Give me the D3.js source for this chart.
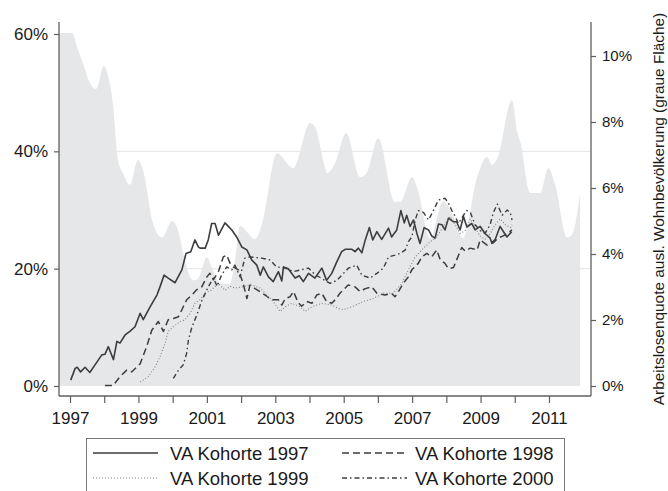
<!DOCTYPE html>
<html>
<head>
<meta charset="utf-8">
<script src="https://cdn.jsdelivr.net/npm/d3@7"></script>
<style>
  body { margin: 0; background: #fff; }
  svg text { font-family: "Liberation Sans", Arial, sans-serif; fill: #1a1a1a; }
</style>
</head>
<body>
<div class="chart"></div>
<script>
// Arbeitslosenquote ausl. Wohnbevoelkerung (right axis, grey area), [year, %]
const areaData = [[1996.68,10.7],[1997.06,10.7],[1997.23,10.2],[1997.44,9.6],[1997.53,9.3],[1997.76,9.0],[1997.99,9.7],[1998.11,9.4],[1998.26,8.5],[1998.40,6.85],[1998.55,6.45],[1998.75,6.1],[1998.99,6.85],[1999.13,6.55],[1999.43,4.9],[1999.69,4.5],[1999.98,5.0],[2000.13,4.8],[2000.36,3.8],[2000.51,3.3],[2000.60,3.2],[2000.74,3.25],[2001.00,3.9],[2001.18,3.5],[2001.39,3.1],[2001.68,3.1],[2001.82,3.8],[2001.97,4.85],[2002.41,4.45],[2002.61,4.9],[2003.05,7.05],[2003.52,6.6],[2004.02,7.97],[2004.16,7.85],[2004.46,6.6],[2004.51,6.45],[2004.75,6.76],[2005.07,7.67],[2005.48,6.33],[2005.68,6.48],[2006.01,7.51],[2006.50,5.58],[2006.65,5.58],[2007.00,6.33],[2007.15,6.0],[2007.53,4.48],[2007.90,5.6],[2008.20,5.15],[2008.49,4.48],[2008.90,6.33],[2009.19,6.94],[2009.34,6.7],[2009.49,6.9],[2009.92,8.67],[2010.07,7.7],[2010.16,7.4],[2010.45,5.85],[2010.74,5.85],[2010.98,6.6],[2011.18,6.1],[2011.53,4.5],[2011.68,4.6],[2011.91,5.85]]

// cohorts (left axis), [year, %]
const kohorte1997 = [[1997.02,1.0],[1997.15,3.0],[1997.21,3.2],[1997.31,2.4],[1997.44,3.2],[1997.58,2.3],[1997.73,3.6],[1997.93,5.3],[1998.02,5.4],[1998.12,6.7],[1998.27,4.5],[1998.37,7.6],[1998.46,7.3],[1998.61,8.7],[1998.75,9.3],[1998.90,10.1],[1999.05,12.4],[1999.14,11.3],[1999.34,13.5],[1999.54,15.5],[1999.63,16.9],[1999.75,18.9],[1999.87,18.4],[2000.07,17.6],[2000.27,19.8],[2000.39,22.6],[2000.53,22.9],[2000.65,24.9],[2000.75,23.7],[2000.80,23.5],[2000.95,23.5],[2001.04,24.9],[2001.14,27.7],[2001.24,27.7],[2001.34,25.7],[2001.53,27.8],[2001.73,26.6],[2001.87,25.4],[2002.02,23.7],[2002.17,23.2],[2002.31,21.5],[2002.46,20.6],[2002.56,18.9],[2002.65,20.3],[2002.80,18.6],[2002.94,17.8],[2003.09,19.5],[2003.19,17.9],[2003.24,20.3],[2003.38,20.0],[2003.58,18.4],[2003.70,18.8],[2003.82,17.8],[2003.97,19.2],[2004.16,18.4],[2004.36,20.1],[2004.50,18.0],[2004.65,19.2],[2004.80,21.2],[2004.94,22.9],[2005.04,23.3],[2005.24,23.3],[2005.33,22.9],[2005.43,23.5],[2005.53,22.7],[2005.63,24.9],[2005.75,27.0],[2005.85,24.9],[2005.97,26.3],[2006.11,25.0],[2006.31,26.9],[2006.40,25.4],[2006.55,26.6],[2006.67,29.9],[2006.77,27.8],[2006.84,29.1],[2006.94,27.2],[2007.04,28.3],[2007.14,26.0],[2007.23,24.3],[2007.35,27.0],[2007.48,26.6],[2007.57,25.6],[2007.67,25.2],[2007.77,27.6],[2007.87,27.5],[2007.96,26.6],[2008.06,28.6],[2008.21,28.0],[2008.30,28.0],[2008.40,26.6],[2008.50,28.9],[2008.60,27.1],[2008.74,27.7],[2008.84,26.6],[2008.99,27.2],[2009.13,26.0],[2009.28,25.2],[2009.33,24.4],[2009.43,25.0],[2009.57,27.2],[2009.67,26.3],[2009.77,25.4],[2009.91,26.3]]

const kohorte1998 = [[1998.02,0.1],[1998.26,0.1],[1998.46,1.6],[1998.66,2.7],[1998.80,2.4],[1999.05,3.8],[1999.24,6.7],[1999.39,9.5],[1999.58,11.0],[1999.73,9.3],[1999.87,11.3],[2000.02,11.5],[2000.17,11.8],[2000.31,13.5],[2000.41,14.7],[2000.56,15.5],[2000.70,16.4],[2000.85,16.9],[2001.00,18.6],[2001.09,19.2],[2001.19,18.1],[2001.34,19.5],[2001.48,22.0],[2001.58,22.3],[2001.68,20.9],[2001.77,20.3],[2001.92,19.8],[2002.06,17.5],[2002.17,14.9],[2002.26,17.2],[2002.41,16.6],[2002.60,15.9],[2002.75,15.3],[2002.89,14.7],[2003.09,14.7],[2003.19,13.8],[2003.29,14.9],[2003.43,15.2],[2003.53,16.1],[2003.67,14.2],[2003.77,13.6],[2003.92,14.4],[2004.07,14.1],[2004.21,15.5],[2004.36,15.8],[2004.50,14.4],[2004.65,14.1],[2004.75,14.7],[2004.89,15.8],[2005.13,17.2],[2005.33,16.9],[2005.48,16.1],[2005.63,16.6],[2005.82,16.9],[2005.97,15.8],[2006.21,15.5],[2006.40,15.8],[2006.50,15.2],[2006.60,16.1],[2006.74,17.5],[2006.89,18.6],[2006.99,19.8],[2007.18,20.9],[2007.28,22.0],[2007.43,22.6],[2007.57,22.0],[2007.72,23.2],[2007.82,21.5],[2007.96,20.9],[2008.06,20.0],[2008.21,20.2],[2008.35,22.2],[2008.45,23.6],[2008.55,23.0],[2008.70,23.5],[2008.90,23.2],[2008.99,24.9],[2009.19,24.0],[2009.37,24.4],[2009.51,25.2],[2009.66,25.6],[2009.78,26.0],[2009.92,26.6]]

const kohorte1999 = [[1999.05,0.7],[1999.29,1.6],[1999.49,3.3],[1999.63,5.0],[1999.78,7.3],[1999.87,9.3],[2000.02,10.1],[2000.22,11.0],[2000.36,11.3],[2000.51,12.4],[2000.65,14.1],[2000.80,14.7],[2000.95,15.8],[2001.14,16.4],[2001.33,17.5],[2001.53,16.3],[2001.68,17.0],[2001.82,16.7],[2002.02,16.9],[2002.31,17.2],[2002.56,16.7],[2002.75,15.5],[2002.94,14.4],[2003.14,12.7],[2003.29,13.5],[2003.48,14.1],[2003.73,13.5],[2003.87,12.7],[2004.07,13.5],[2004.36,14.1],[2004.65,13.8],[2004.85,13.2],[2004.99,13.0],[2005.28,13.6],[2005.57,14.4],[2005.86,14.9],[2006.16,15.8],[2006.45,15.8],[2006.70,17.5],[2006.89,19.8],[2007.09,22.0],[2007.28,23.2],[2007.53,24.6],[2007.72,25.4],[2007.91,27.2],[2008.11,28.9],[2008.26,27.5],[2008.40,26.0],[2008.55,26.5],[2008.70,28.5],[2008.84,27.0],[2008.99,25.5],[2009.13,25.0],[2009.28,26.0],[2009.43,27.5],[2009.57,28.5],[2009.72,27.5],[2009.87,27.0],[2009.92,27.5]]

const kohorte2000 = [[2000.02,1.3],[2000.17,2.7],[2000.31,3.6],[2000.41,5.6],[2000.46,7.8],[2000.56,10.0],[2000.70,12.0],[2000.85,14.5],[2001.04,16.9],[2001.19,18.4],[2001.30,17.0],[2001.43,18.9],[2001.58,20.3],[2001.73,19.8],[2001.82,20.6],[2001.97,18.6],[2002.11,21.8],[2002.26,22.0],[2002.60,21.8],[2002.84,21.5],[2003.04,20.3],[2003.29,20.1],[2003.53,19.5],[2003.97,20.1],[2004.16,19.0],[2004.60,17.5],[2004.80,18.0],[2005.14,20.1],[2005.38,20.6],[2005.53,18.9],[2005.77,18.4],[2005.97,19.2],[2006.16,20.1],[2006.31,22.0],[2006.50,22.3],[2006.65,22.6],[2006.80,23.2],[2006.89,24.6],[2006.99,25.4],[2007.09,28.3],[2007.18,29.9],[2007.33,29.6],[2007.48,28.3],[2007.62,29.9],[2007.77,31.7],[2007.96,32.0],[2008.06,31.2],[2008.16,29.9],[2008.26,28.9],[2008.35,27.7],[2008.50,29.1],[2008.60,29.9],[2008.70,29.6],[2008.84,27.5],[2008.99,26.5],[2009.13,26.0],[2009.28,27.5],[2009.37,29.5],[2009.49,31.0],[2009.63,29.1],[2009.78,30.0],[2009.87,29.5],[2009.92,28.3]]

const leftTicks = [0, 20, 40, 60]
const rightTicks = [0, 2, 4, 6, 8, 10]
const yearTicks = d3.range(1997, 2012)
const gridTicks = [20, 40]
const rightTitle = 'Arbeitslosenquote ausl. Wohnbevölkerung (graue Fläche)'

const series = [
  {name: 'VA Kohorte 1997', data: kohorte1997, dash: null, color: '#3d3d3d', width: 1.6},
  {name: 'VA Kohorte 1998', data: kohorte1998, dash: '7,4', color: '#3d3d3d', width: 1.5},
  {name: 'VA Kohorte 1999', data: kohorte1999, dash: '1,2', color: '#808080', width: 1.1},
  {name: 'VA Kohorte 2000', data: kohorte2000, dash: '5,3,1.5,3', color: '#3d3d3d', width: 1.4}
]

const width = 668, height = 491
const svg = d3.select('.chart').append('svg').attr('width', width).attr('height', height)

const plot = {left: 59, right: 591, top: 22, bottom: 396}
const x = d3.scaleLinear().domain([1996.678, 2012.228]).range([plot.left, plot.right])
const yL = d3.scaleLinear().domain([0, 60]).range([386, 34])
const yR = d3.scaleLinear().domain([0, 10]).range([386, 56])

// grid lines (sit under the grey area)
svg.append('g').selectAll('line')
  .data(gridTicks)
  .join('line')
  .attr('x1', plot.left).attr('x2', plot.right)
  .attr('y1', d => yL(d)).attr('y2', d => yL(d))
  .attr('stroke', '#e9e9e9').attr('stroke-width', 1.3)

const area = d3.area()
  .x(d => x(d[0]))
  .y0(yR(0))
  .y1(d => yR(d[1]))
  .curve(d3.curveMonotoneX)

svg.append('path')
  .datum(areaData)
  .attr('d', area)
  .attr('fill', '#e6e7e9')

const line = d3.line().x(d => x(d[0])).y(d => yL(d[1]))

svg.append('g').selectAll('path')
  .data(series)
  .join('path')
  .attr('d', d => line(d.data))
  .attr('fill', 'none')
  .attr('stroke', d => d.color)
  .attr('stroke-width', d => d.width)
  .attr('stroke-dasharray', d => d.dash)
  .attr('stroke-linejoin', 'round')

// axes
const axisColor = '#5f5f5f'
const styleAxis = (g, size) => {
  g.select('.domain').remove()
  g.selectAll('.tick line').attr('stroke', axisColor).attr('stroke-width', 1.2)
  g.selectAll('.tick text').style('font-size', size + 'px').attr('fill', '#1a1a1a')
}

svg.append('g')
  .attr('transform', `translate(${plot.left},0)`)
  .call(d3.axisLeft(yL).tickValues(leftTicks).tickFormat(d => d + '%').tickSize(5).tickPadding(6))
  .call(g => styleAxis(g, 17))

svg.append('g')
  .attr('transform', `translate(${plot.right},0)`)
  .call(d3.axisRight(yR).tickValues(rightTicks).tickFormat(d => d + '%').tickSize(5).tickPadding(6))
  .call(g => styleAxis(g, 15))

svg.append('g')
  .attr('transform', `translate(0,${plot.bottom})`)
  .call(d3.axisBottom(x).tickValues(yearTicks).tickFormat(d => d % 2 ? d : '').tickSize(7).tickPadding(9))
  .call(g => styleAxis(g, 17))

const frame = [
  [plot.left, plot.top, plot.left, plot.bottom],
  [plot.left, plot.bottom, plot.right, plot.bottom],
  [plot.right, plot.top, plot.right, plot.bottom]
]
svg.append('g').selectAll('line')
  .data(frame)
  .join('line')
  .attr('x1', d => d[0]).attr('y1', d => d[1])
  .attr('x2', d => d[2]).attr('y2', d => d[3])
  .attr('stroke', axisColor).attr('stroke-width', 1.3)

svg.append('text')
  .attr('transform', 'translate(664,209) rotate(-90)')
  .attr('text-anchor', 'middle')
  .style('font-size', '15.4px')
  .text(rightTitle)

// legend
const legend = svg.append('g')
legend.append('rect')
  .attr('x', 86.5).attr('y', 438.5)
  .attr('width', 478).attr('height', 70)
  .attr('fill', '#fff').attr('stroke', '#777').attr('stroke-width', 1)

const legendPos = [{lx: 93, tx: 170, y: 453}, {lx: 342, tx: 415, y: 453}, {lx: 93, tx: 170, y: 478}, {lx: 342, tx: 415, y: 478}]
const items = legend.selectAll('g.item')
  .data(series)
  .join('g')
  .attr('class', 'item')

items.append('line')
  .attr('x1', (d, i) => legendPos[i].lx)
  .attr('x2', (d, i) => legendPos[i].lx + 65)
  .attr('y1', (d, i) => legendPos[i].y)
  .attr('y2', (d, i) => legendPos[i].y)
  .attr('stroke', d => d.color)
  .attr('stroke-width', d => d.width)
  .attr('stroke-dasharray', d => d.dash)

items.append('text')
  .attr('x', (d, i) => legendPos[i].tx)
  .attr('y', (d, i) => legendPos[i].y)
  .attr('dy', '0.36em')
  .style('font-size', '18.5px')
  .text(d => d.name)
</script>
</body>
</html>
